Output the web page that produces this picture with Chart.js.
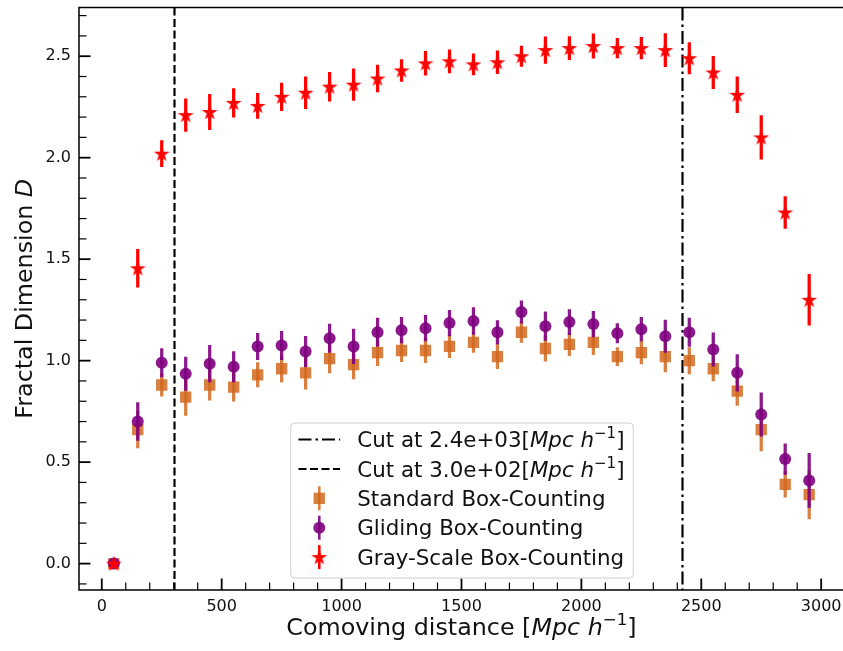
<!DOCTYPE html>
<html>
<head>
<meta charset="utf-8">
<script src="https://cdn.jsdelivr.net/npm/chart.js@4/dist/chart.umd.min.js"></script>
<style>
  html, body { margin: 0; padding: 0; background: #fff; overflow: hidden; }
  #wrap { width: 843px; height: 651px; }
</style>
</head>
<body>
<div id="wrap"><canvas id="c" width="843" height="651"></canvas></div>
<script>
// Comoving distance of each shell centre [Mpc/h]
const distances = [50, 150, 250, 350, 450, 550, 650, 750, 850, 950, 1050, 1150, 1250, 1350, 1450,
                   1550, 1650, 1750, 1850, 1950, 2050, 2150, 2250, 2350, 2450, 2550, 2650, 2750, 2850, 2950];

// Standard box-counting dimension and its uncertainty
const standardD   = [0, 0.66, 0.88, 0.82, 0.88, 0.87, 0.93, 0.96, 0.94, 1.01, 0.98, 1.04, 1.05, 1.05, 1.07,
                     1.09, 1.02, 1.14, 1.06, 1.08, 1.09, 1.02, 1.04, 1.02, 1.00, 0.96, 0.85, 0.66, 0.39, 0.34];
const standardErr = [0, 0.09, 0.055, 0.09, 0.075, 0.07, 0.06, 0.065, 0.08, 0.07, 0.07, 0.065, 0.055, 0.06, 0.055,
                     0.05, 0.06, 0.05, 0.062, 0.055, 0.06, 0.045, 0.056, 0.075, 0.065, 0.06, 0.07, 0.105, 0.063, 0.12];

// Gliding box-counting dimension and its uncertainty
const glidingD    = [0, 0.70, 0.99, 0.935, 0.985, 0.97, 1.07, 1.075, 1.045, 1.11, 1.07, 1.14, 1.15, 1.16, 1.185,
                     1.195, 1.14, 1.24, 1.17, 1.19, 1.18, 1.135, 1.155, 1.12, 1.14, 1.055, 0.94, 0.735, 0.515, 0.41];
const glidingErr  = [0, 0.093, 0.07, 0.082, 0.09, 0.075, 0.065, 0.07, 0.075, 0.07, 0.085, 0.07, 0.063, 0.063, 0.063,
                     0.066, 0.058, 0.055, 0.07, 0.062, 0.063, 0.048, 0.058, 0.08, 0.07, 0.082, 0.09, 0.107, 0.075, 0.133];

// Gray-scale box-counting dimension and its uncertainty
const grayD       = [0, 1.455, 2.02, 2.21, 2.225, 2.27, 2.255, 2.30, 2.32, 2.35, 2.36, 2.39, 2.43, 2.465, 2.475,
                     2.46, 2.47, 2.50, 2.53, 2.54, 2.55, 2.54, 2.54, 2.53, 2.49, 2.42, 2.31, 2.10, 1.73, 1.30];
const grayErr     = [0, 0.093, 0.064, 0.08, 0.087, 0.07, 0.062, 0.068, 0.078, 0.071, 0.078, 0.066, 0.054, 0.059, 0.057,
                     0.052, 0.056, 0.05, 0.066, 0.057, 0.06, 0.048, 0.053, 0.082, 0.077, 0.08, 0.088, 0.107, 0.078, 0.125];

// Distance cuts and their legend labels
const cutPositions = [2420, 300];
const cutLabels    = ['Cut at 2.4e+03', 'Cut at 3.0e+02'];

// Axis ticks and visible limits
const xMajorTicks = [0, 500, 1000, 1500, 2000, 2500, 3000];
const yMajorTicks = [0.0, 0.5, 1.0, 1.5, 2.0, 2.5];
const xLimits = [-95, 3091];
const yLimits = [-0.13, 2.74];

const seriesNames = ['Standard Box-Counting', 'Gliding Box-Counting', 'Gray-Scale Box-Counting'];

// ---- styling ----
const FONT = '"DejaVu Sans", "Liberation Sans", sans-serif';
const ORANGE = 'rgba(210,105,30,0.85)';
const PURPLE = 'rgba(128,0,128,0.9)';
const RED = '#ff0000';
const cutDash = [[13, 4, 2.5, 4], [8, 3.5]];

function starImage(color, outer) {
  const s = 16;
  const c = document.createElement('canvas');
  c.width = s; c.height = s;
  const g = c.getContext('2d');
  const inner = outer * 0.382;
  g.beginPath();
  for (let k = 0; k < 10; k++) {
    const r = k % 2 ? inner : outer;
    const a = -Math.PI / 2 + k * Math.PI / 5;
    g.lineTo(s / 2 + r * Math.cos(a), s / 2 + 0.6 + r * Math.sin(a));
  }
  g.closePath();
  g.fillStyle = color; g.fill();
  g.lineWidth = 1.2; g.strokeStyle = color; g.stroke();
  return c;
}
const STAR = starImage(RED, 6.4);

function points(vals) { return distances.map((d, i) => ({ x: d, y: vals[i] })); }
function ranges(vals, errs) { return distances.map((d, i) => ({ x: d, y: [vals[i] - errs[i], vals[i] + errs[i]] })); }

function errorBars(vals, errs, color, order) {
  return { type: 'bar', data: ranges(vals, errs), backgroundColor: color, borderWidth: 0,
           barThickness: 2.6, grouped: false, order: order };
}
function markers(label, vals, color, style, radius, order) {
  return { type: 'scatter', label: label, data: points(vals), showLine: false,
           pointStyle: style, pointRadius: radius, pointBackgroundColor: color,
           pointBorderColor: color, pointBorderWidth: 0, order: order };
}

// Rich text: plain text mixed with italic and superscript runs
const unitParts = [{ t: '[' }, { t: 'Mpc h', it: true }, { t: '\u22121', sup: true }, { t: ']' }];
function richRun(ctx, parts, x, y, size, draw) {
  let cx = x;
  parts.forEach(p => {
    const fs = p.sup ? size * 0.7 : size;
    ctx.font = (p.it ? 'italic ' : '') + fs + 'px ' + FONT;
    if (draw) ctx.fillText(p.t, cx, p.sup ? y - size * 0.42 : y);
    cx += ctx.measureText(p.t).width;
  });
  return cx - x;
}

const decor = {
  id: 'decor',
  beforeDatasetsDraw(chart) {
    const { ctx, chartArea: a, scales: { x } } = chart;
    ctx.save();
    ctx.beginPath(); ctx.rect(a.left, a.top, a.right - a.left, a.bottom - a.top); ctx.clip();
    ctx.strokeStyle = '#000'; ctx.lineWidth = 2.2;
    cutPositions.forEach((c, i) => {
      const px = Math.round(x.getPixelForValue(c)) + 0.5;
      ctx.setLineDash(cutDash[i]);
      ctx.beginPath(); ctx.moveTo(px, a.top); ctx.lineTo(px, a.bottom); ctx.stroke();
    });
    ctx.restore();
  },
  afterDatasetsDraw(chart) {
    const { ctx, chartArea: a, scales: { x, y } } = chart;
    ctx.save();
    // spines: top, left, bottom (the right one lies past the visible edge)
    ctx.strokeStyle = '#000'; ctx.lineWidth = 1.5; ctx.setLineDash([]);
    ctx.beginPath();
    ctx.moveTo(chart.width, a.top); ctx.lineTo(a.left, a.top);
    ctx.lineTo(a.left, a.bottom); ctx.lineTo(chart.width, a.bottom);
    ctx.stroke();
    // inward ticks
    const tick = (px, len, lw, horiz) => {
      ctx.lineWidth = lw; ctx.beginPath();
      if (horiz) { ctx.moveTo(a.left, px); ctx.lineTo(a.left + len, px); }
      else { ctx.moveTo(px, a.bottom); ctx.lineTo(px, a.bottom - len); }
      ctx.stroke();
    };
    yMajorTicks.forEach(v => tick(y.getPixelForValue(v), 11.5, 1.8, true));
    for (let k = -1; k <= 27; k++) if (k % 5) tick(y.getPixelForValue(k / 10), 7.5, 1.2, true);
    xMajorTicks.forEach(v => tick(x.getPixelForValue(v), 11.5, 1.8, false));
    for (let k = 0; k <= 30; k++) if (k % 5) tick(x.getPixelForValue(k * 100), 7.5, 1.2, false);

    // axis titles
    ctx.fillStyle = '#111'; ctx.textBaseline = 'alphabetic';
    const tsz = 23.8;
    const xParts = [{ t: 'Comoving distance ' }].concat(unitParts);
    const xw = richRun(ctx, xParts, 0, 0, tsz, false);
    const xCenter = (a.left + x.getPixelForValue(3095)) / 2;
    richRun(ctx, xParts, xCenter - xw / 2, 635, tsz, true);
    const yParts = [{ t: 'Fractal Dimension ' }, { t: 'D', it: true }];
    ctx.translate(32, (a.top + a.bottom) / 2);
    ctx.rotate(-Math.PI / 2);
    const yw = richRun(ctx, yParts, 0, 0, tsz, false);
    richRun(ctx, yParts, -yw / 2, 0, tsz, true);
    ctx.restore();

    // legend
    ctx.save();
    const fs = 21.4, pad = 8.3, hl = 41.6, htp = 17.2, rowH = 29.4;
    const ds = chart.data.datasets.filter(d => d.type === 'scatter');
    const rows = [
      { kind: 'line', dash: cutDash[0], parts: [{ t: cutLabels[0] }].concat(unitParts) },
      { kind: 'line', dash: cutDash[1], parts: [{ t: cutLabels[1] }].concat(unitParts) }
    ].concat(ds.map(d => ({ kind: 'mark', d: d, parts: [{ t: d.label }] })));
    const tw = Math.max(...rows.map(r => richRun(ctx, r.parts, 0, 0, fs, false)));
    const W = pad + hl + htp + tw + pad;
    const H = 155;
    const left = xCenter - W / 2;
    const bottom = a.bottom - 12.5;
    const top = bottom - H;
    ctx.beginPath();
    ctx.roundRect(left + 0.5, top + 0.5, W, H, 4);
    ctx.fillStyle = 'rgba(255,255,255,0.8)'; ctx.fill();
    ctx.strokeStyle = '#d0d0d0'; ctx.lineWidth = 1; ctx.stroke();
    rows.forEach((r, i) => {
      const cy = top + 17 + rowH * i;
      const hx = left + pad;
      if (r.kind === 'line') {
        ctx.strokeStyle = '#000'; ctx.lineWidth = 2; ctx.setLineDash(r.dash);
        ctx.beginPath(); ctx.moveTo(hx, cy); ctx.lineTo(hx + hl, cy); ctx.stroke();
        ctx.setLineDash([]);
      } else {
        const d = r.d, mx = hx + hl / 2;
        ctx.fillStyle = d.pointBackgroundColor;
        ctx.fillRect(mx - 1.3, cy - 12, 2.6, 24);
        if (d.pointStyle === 'rect') {
          const h = d.pointRadius * Math.SQRT1_2;
          ctx.fillRect(mx - h, cy - h, 2 * h, 2 * h);
        } else if (d.pointStyle === 'circle') {
          ctx.beginPath(); ctx.arc(mx, cy, d.pointRadius, 0, Math.PI * 2); ctx.fill();
        } else {
          ctx.drawImage(d.pointStyle, mx - d.pointStyle.width / 2, cy - d.pointStyle.height / 2);
        }
      }
      ctx.fillStyle = '#111'; ctx.textBaseline = 'alphabetic';
      richRun(ctx, r.parts, hx + hl + htp, cy + 7.6, fs, true);
    });
    ctx.restore();
  }
};

new Chart(document.getElementById('c'), {
  type: 'scatter',
  data: {
    datasets: [
      errorBars(standardD, standardErr, ORANGE, 6),
      markers(seriesNames[0], standardD, ORANGE, 'rect', 8, 5),
      errorBars(glidingD, glidingErr, PURPLE, 4),
      markers(seriesNames[1], glidingD, PURPLE, 'circle', 6, 3),
      errorBars(grayD, grayErr, RED, 2),
      markers(seriesNames[2], grayD, RED, STAR, 6, 1)
    ]
  },
  options: {
    responsive: false,
    animation: false,
    events: [],
    layout: { autoPadding: false, padding: { top: 7.5, left: 0, right: -2, bottom: 0 } },
    plugins: { legend: { display: false }, tooltip: { enabled: false } },
    scales: {
      x: {
        type: 'linear', min: xLimits[0], max: xLimits[1], offset: false,
        grid: { display: false, drawTicks: false }, border: { display: false },
        afterFit: s => { s.height = 61; s.paddingLeft = 0; s.paddingRight = 0; },
        afterBuildTicks: s => { s.ticks = xMajorTicks.map(v => ({ value: v })); },
        ticks: { autoSkip: false, maxRotation: 0, padding: 7, color: '#111',
                 font: { family: FONT, size: 16 }, callback: v => String(v) }
      },
      y: {
        type: 'linear', min: yLimits[0], max: yLimits[1],
        grid: { display: false, drawTicks: false }, border: { display: false },
        afterFit: s => { s.width = 79; s.paddingTop = 0; s.paddingBottom = 0; },
        afterBuildTicks: s => { s.ticks = yMajorTicks.map(v => ({ value: v })); },
        ticks: { autoSkip: false, padding: 8, color: '#111',
                 font: { family: FONT, size: 16 }, callback: v => Number(v).toFixed(1) }
      }
    }
  },
  plugins: [decor]
});
</script>
</body>
</html>
